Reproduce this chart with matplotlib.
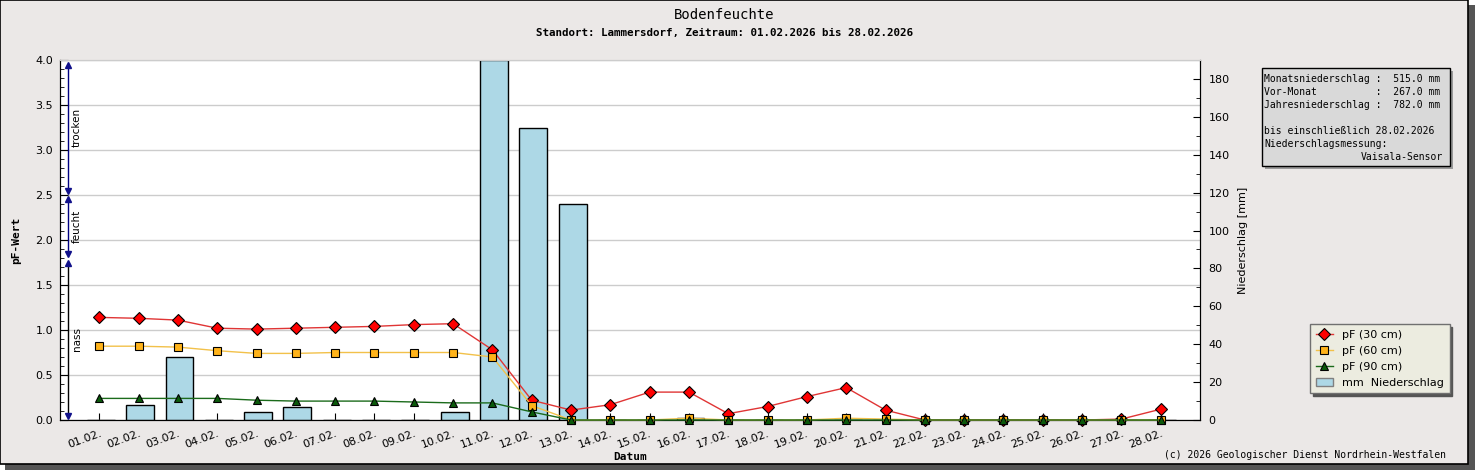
import numpy as np
import matplotlib.pyplot as plt
from matplotlib.patches import Rectangle, Patch
from matplotlib.lines import Line2D
from matplotlib.ticker import MultipleLocator, FormatStrFormatter

plt.rcParams['font.family'] = ['DejaVu Sans']
MONO = ['DejaVu Sans Mono', 'DejaVu Sans']

#%% data
datum = ['01.02.', '02.02.', '03.02.', '04.02.', '05.02.', '06.02.', '07.02.',
         '08.02.', '09.02.', '10.02.', '11.02.', '12.02.', '13.02.', '14.02.',
         '15.02.', '16.02.', '17.02.', '18.02.', '19.02.', '20.02.', '21.02.',
         '22.02.', '23.02.', '24.02.', '25.02.', '26.02.', '27.02.', '28.02.']
pf30 = [1.14, 1.13, 1.11, 1.02, 1.01, 1.02, 1.03, 1.04, 1.06, 1.07, 0.78, 0.22,
        0.11, 0.17, 0.31, 0.31, 0.07, 0.15, 0.26, 0.36, 0.11, 0.0, 0.0, 0.0,
        0.0, 0.0, 0.01, 0.12]
pf60 = [0.82, 0.82, 0.81, 0.77, 0.74, 0.74, 0.75, 0.75, 0.75, 0.75, 0.70, 0.16,
        0.0, 0.0, 0.0, 0.02, 0.0, 0.0, 0.0, 0.02, 0.01, 0.0, 0.0, 0.0,
        0.0, 0.0, 0.0, 0.0]
pf90 = [0.24, 0.24, 0.24, 0.24, 0.22, 0.21, 0.21, 0.21, 0.20, 0.19, 0.19, 0.09,
        0.0, 0.0, 0.0, 0.0, 0.0, 0.0, 0.0, 0.0, 0.0, 0.0, 0.0, 0.0,
        0.0, 0.0, 0.0, 0.0]
niederschlag = [0, 8, 33, 0, 4, 7, 0, 0, 0, 4, 190, 154, 114, 0, 0, 1, 0, 0,
                0, 0, 0, 0, 0, 0, 0, 0, 0, 0]

zonen = ['nass', 'feucht', 'trocken']
zonen_grenzen = [0.0, 1.8, 2.5, 4.0]

info_zeilen = ['Monatsniederschlag :  515.0 mm',
               'Vor-Monat          :  267.0 mm',
               'Jahresniederschlag :  782.0 mm',
               '',
               'bis einschließlich 28.02.2026',
               'Niederschlagsmessung:']
info_sensor = 'Vaisala-Sensor'

titel = 'Bodenfeuchte'
untertitel = 'Standort: Lammersdorf, Zeitraum: 01.02.2026 bis 28.02.2026'
copyright_text = '(c) 2026 Geologischer Dienst Nordrhein-Westfalen'

#%% figure
W, H = 1475, 470
bg = '#ebe8e7'
grid_col = '#cccccc'

def fx(px):
    return px / W

def fy(py):
    return 1 - py / H

fig = plt.figure(figsize=(W / 100, H / 100), dpi=100)
fig.patch.set_facecolor('white')

# frame with shadow
fig.add_artist(Rectangle((fx(5), 0), fx(1470), 465 / H, transform=fig.transFigure,
                         fc='#555555', ec='none', zorder=-3))
fig.add_artist(Rectangle((0, fy(464)), fx(1468), 464 / H, transform=fig.transFigure,
                         fc=bg, ec='black', lw=1.2, zorder=-2))

pos = [fx(60), fy(420), fx(1200) - fx(60), 360 / H]
ax = fig.add_axes(pos)
ax2 = ax.twinx()
ax3 = fig.add_axes(pos, sharex=ax, sharey=ax)
ax.set_zorder(0)
ax2.set_zorder(1)
ax3.set_zorder(2)
ax3.patch.set_visible(False)
ax3.axis('off')

x = np.arange(1, len(datum) + 1)

# left axis: pF
ax.set_facecolor('white')
ax.set_xlim(0, 29)
ax.set_ylim(0, 4)
ax.yaxis.set_major_locator(MultipleLocator(0.5))
ax.yaxis.set_minor_locator(MultipleLocator(0.1))
ax.yaxis.set_major_formatter(FormatStrFormatter('%.1f'))
ax.grid(axis='y', which='major', color=grid_col, lw=1)
ax.set_axisbelow(True)
ax.set_xticks(x)
ax.set_xticklabels(datum, rotation=20, ha='right', rotation_mode='anchor')
ax.tick_params(axis='x', direction='in', length=5, pad=6, labelsize=8)
ax.tick_params(axis='y', which='major', direction='in', length=6, pad=5, labelsize=8)
ax.tick_params(axis='y', which='minor', direction='in', length=3)
ax.spines['top'].set_color(grid_col)

# right axis: precipitation
ax2.bar(x + 0.04, niederschlag, width=0.71, color='#add8e6', edgecolor='black', lw=1, zorder=1)
ax2.set_ylim(0, 190)
ax2.yaxis.set_major_locator(MultipleLocator(20))
ax2.yaxis.set_minor_locator(MultipleLocator(10))
ax2.tick_params(axis='y', which='major', direction='in', length=5, pad=6, labelsize=8)
ax2.tick_params(axis='y', which='minor', direction='in', length=3)
ax2.spines['top'].set_color(grid_col)
ax2.set_ylabel('Niederschlag [mm]', fontsize=8, labelpad=6)

# pF lines (30 cm at the bottom, 90 cm on top)
s30 = dict(color='#e03535', marker='D', mfc='#ff0000', mec='black', ms=6, mew=0.8, lw=1)
s60 = dict(color='#f2c14a', marker='s', mfc='#ffb31a', mec='black', ms=5.5, mew=0.8, lw=1)
s90 = dict(color='#1b6b1b', marker='^', mfc='#0b5a0b', mec='black', ms=6, mew=0.8, lw=1)
ax3.plot(x, pf30, clip_on=False, **s30)
ax3.plot(x, pf60, clip_on=False, **s60)
ax3.plot(x, pf90, clip_on=False, **s90)

# moisture zones on the left
zx, tx, gap = 0.21, 0.42, 0.05
zone_farben = ['black', '#000080', '#000080']
for lo, hi, name, col in zip(zonen_grenzen[:-1], zonen_grenzen[1:], zonen, zone_farben):
    ax3.plot([zx, zx], [lo + gap, hi - gap], color=col, lw=1)
    ax3.plot(zx, hi - gap, marker='^', color='#10108a', ms=4.5)
    ax3.plot(zx, lo + gap, marker='v', color='#10108a', ms=4.5)
    ax3.text(tx, (lo + hi) / 2, name, rotation=90, ha='center', va='center', fontsize=7.5)

# titles
fig.text(fx(724), fy(15), titel, ha='center', va='center', family=MONO, fontsize=10)
fig.text(fx(724), fy(33), untertitel, ha='center', va='center', family=MONO,
         fontsize=7.8, fontweight='bold')
fig.text(fx(630), fy(457), 'Datum', ha='center', va='center', family=MONO,
         fontsize=8, fontweight='bold')
fig.text(fx(16), fy(240), 'pF-Wert', rotation=90, ha='center', va='center', family=MONO,
         fontsize=8, fontweight='bold')
fig.text(fx(1446), fy(455), copyright_text, ha='right', va='center', family=MONO, fontsize=7)

# info box
fig.add_artist(Rectangle((fx(1265), fy(169)), fx(188), 98 / H, transform=fig.transFigure,
                         fc='#9a9a9a', ec='none', zorder=3))
fig.add_artist(Rectangle((fx(1262), fy(166)), fx(188), 98 / H, transform=fig.transFigure,
                         fc='#d9d9d9', ec='black', lw=1, zorder=4))
for i, zeile in enumerate(info_zeilen):
    fig.text(fx(1264), fy(79.3 + 12.9 * i), zeile, ha='left', va='center',
             family=MONO, fontsize=7, zorder=5)
fig.text(fx(1443), fy(79.3 + 12.9 * 6), info_sensor, ha='right', va='center',
         family=MONO, fontsize=7, zorder=5)

# legend
handles = [Line2D([], [], **s30), Line2D([], [], **s60), Line2D([], [], **s90),
           Patch(fc='#add8e6', ec='#808080')]
labels = ['pF (30 cm)', 'pF (60 cm)', 'pF (90 cm)', 'mm  Niederschlag']
leg = fig.legend(handles, labels, loc='upper left', bbox_to_anchor=(fx(1310), fy(324)),
                 borderaxespad=0, fontsize=8, fancybox=False, framealpha=1,
                 facecolor='#ecece0', edgecolor='#707070', handlelength=1.6,
                 labelspacing=0.55, borderpad=0.5,
                 shadow={'color': '#555555', 'alpha': 1})
leg.get_frame().set_linewidth(1)

fig.savefig('out.png', dpi=100)
